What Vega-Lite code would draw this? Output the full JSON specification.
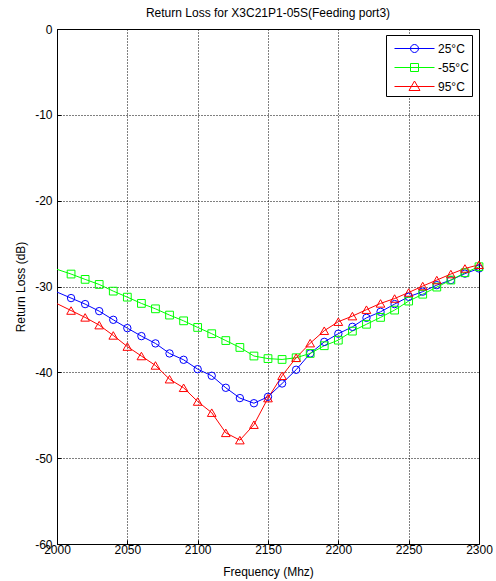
{
  "$schema": "https://vega.github.io/schema/vega-lite/v6.json",
  "width": 422,
  "height": 515,
  "autosize": {"type": "none"},
  "padding": {"left": 57, "top": 29, "right": 17, "bottom": 37},
  "config": {
    "font": "Liberation Sans",
    "view": {"stroke": "black", "strokeWidth": 1},
    "axis": {
      "labelFont": "Liberation Sans", "labelFontSize": 12, "labelColor": "black",
      "titleFont": "Liberation Sans", "titleFontSize": 12, "titleFontWeight": "normal", "titleColor": "black",
      "gridColor": "black", "gridDash": [1, 2], "gridOpacity": 1, "gridWidth": 1,
      "tickColor": "black", "tickSize": -4, "domain": false
    },
    "legend": {
      "title": null, "orient": "none", "legendX": 329, "legendY": 6,
      "fillColor": "white", "strokeColor": "black", "padding": 3,
      "symbolSize": 400, "symbolStrokeWidth": 1, "symbolFillColor": "transparent",
      "labelFontSize": 12, "labelFont": "Liberation Sans", "labelColor": "black",
      "rowPadding": 2, "labelOffset": 28
    }
  },
  "title": {"text": "Return Loss for X3C21P1-05S(Feeding port3)", "fontSize": 12, "fontWeight": "normal", "font": "Liberation Sans", "color": "black", "offset": 3, "anchor": "middle"},
  "data": {"values": [
    {"f": 2000, "t": "25°C", "rl": -30.65}, {"f": 2010, "t": "25°C", "rl": -31.35}, {"f": 2020, "t": "25°C", "rl": -32.05}, {"f": 2030, "t": "25°C", "rl": -32.87}, {"f": 2040, "t": "25°C", "rl": -33.88}, {"f": 2050, "t": "25°C", "rl": -34.85}, {"f": 2060, "t": "25°C", "rl": -35.78}, {"f": 2070, "t": "25°C", "rl": -36.63}, {"f": 2080, "t": "25°C", "rl": -37.8}, {"f": 2090, "t": "25°C", "rl": -38.54}, {"f": 2100, "t": "25°C", "rl": -39.63}, {"f": 2110, "t": "25°C", "rl": -40.4}, {"f": 2120, "t": "25°C", "rl": -41.8}, {"f": 2130, "t": "25°C", "rl": -43.0}, {"f": 2140, "t": "25°C", "rl": -43.6}, {"f": 2150, "t": "25°C", "rl": -42.85}, {"f": 2160, "t": "25°C", "rl": -41.3}, {"f": 2170, "t": "25°C", "rl": -39.7}, {"f": 2180, "t": "25°C", "rl": -37.8}, {"f": 2190, "t": "25°C", "rl": -36.45}, {"f": 2200, "t": "25°C", "rl": -35.5}, {"f": 2210, "t": "25°C", "rl": -34.7}, {"f": 2220, "t": "25°C", "rl": -33.65}, {"f": 2230, "t": "25°C", "rl": -32.95}, {"f": 2240, "t": "25°C", "rl": -32.05}, {"f": 2250, "t": "25°C", "rl": -31.2}, {"f": 2260, "t": "25°C", "rl": -30.6}, {"f": 2270, "t": "25°C", "rl": -29.84}, {"f": 2280, "t": "25°C", "rl": -29.25}, {"f": 2290, "t": "25°C", "rl": -28.5}, {"f": 2300, "t": "25°C", "rl": -27.9},
    {"f": 2000, "t": "-55°C", "rl": -28.0}, {"f": 2010, "t": "-55°C", "rl": -28.55}, {"f": 2020, "t": "-55°C", "rl": -29.17}, {"f": 2030, "t": "-55°C", "rl": -29.76}, {"f": 2040, "t": "-55°C", "rl": -30.54}, {"f": 2050, "t": "-55°C", "rl": -31.24}, {"f": 2060, "t": "-55°C", "rl": -31.97}, {"f": 2070, "t": "-55°C", "rl": -32.6}, {"f": 2080, "t": "-55°C", "rl": -33.33}, {"f": 2090, "t": "-55°C", "rl": -34.0}, {"f": 2100, "t": "-55°C", "rl": -34.77}, {"f": 2110, "t": "-55°C", "rl": -35.5}, {"f": 2120, "t": "-55°C", "rl": -36.3}, {"f": 2130, "t": "-55°C", "rl": -37.1}, {"f": 2140, "t": "-55°C", "rl": -38.1}, {"f": 2150, "t": "-55°C", "rl": -38.4}, {"f": 2160, "t": "-55°C", "rl": -38.5}, {"f": 2170, "t": "-55°C", "rl": -38.3}, {"f": 2180, "t": "-55°C", "rl": -37.8}, {"f": 2190, "t": "-55°C", "rl": -36.9}, {"f": 2200, "t": "-55°C", "rl": -36.25}, {"f": 2210, "t": "-55°C", "rl": -35.2}, {"f": 2220, "t": "-55°C", "rl": -34.4}, {"f": 2230, "t": "-55°C", "rl": -33.6}, {"f": 2240, "t": "-55°C", "rl": -32.75}, {"f": 2250, "t": "-55°C", "rl": -31.7}, {"f": 2260, "t": "-55°C", "rl": -30.9}, {"f": 2270, "t": "-55°C", "rl": -30.07}, {"f": 2280, "t": "-55°C", "rl": -29.25}, {"f": 2290, "t": "-55°C", "rl": -28.4}, {"f": 2300, "t": "-55°C", "rl": -27.7},
    {"f": 2000, "t": "95°C", "rl": -32.0}, {"f": 2010, "t": "95°C", "rl": -32.8}, {"f": 2020, "t": "95°C", "rl": -33.6}, {"f": 2030, "t": "95°C", "rl": -34.5}, {"f": 2040, "t": "95°C", "rl": -35.7}, {"f": 2050, "t": "95°C", "rl": -37.0}, {"f": 2060, "t": "95°C", "rl": -38.1}, {"f": 2070, "t": "95°C", "rl": -39.2}, {"f": 2080, "t": "95°C", "rl": -40.8}, {"f": 2090, "t": "95°C", "rl": -41.8}, {"f": 2100, "t": "95°C", "rl": -43.4}, {"f": 2110, "t": "95°C", "rl": -44.7}, {"f": 2120, "t": "95°C", "rl": -47.05}, {"f": 2130, "t": "95°C", "rl": -47.9}, {"f": 2140, "t": "95°C", "rl": -46.1}, {"f": 2150, "t": "95°C", "rl": -43.0}, {"f": 2160, "t": "95°C", "rl": -40.4}, {"f": 2170, "t": "95°C", "rl": -38.3}, {"f": 2180, "t": "95°C", "rl": -36.6}, {"f": 2190, "t": "95°C", "rl": -35.15}, {"f": 2200, "t": "95°C", "rl": -34.1}, {"f": 2210, "t": "95°C", "rl": -33.45}, {"f": 2220, "t": "95°C", "rl": -32.7}, {"f": 2230, "t": "95°C", "rl": -31.97}, {"f": 2240, "t": "95°C", "rl": -31.4}, {"f": 2250, "t": "95°C", "rl": -30.7}, {"f": 2260, "t": "95°C", "rl": -29.95}, {"f": 2270, "t": "95°C", "rl": -29.25}, {"f": 2280, "t": "95°C", "rl": -28.55}, {"f": 2290, "t": "95°C", "rl": -27.9}, {"f": 2300, "t": "95°C", "rl": -27.47}
  ]},
  "encoding": {
    "x": {"field": "f", "type": "quantitative", "scale": {"domain": [2000, 2300], "nice": false, "zero": false},
      "axis": {"title": "Frequency (Mhz)", "values": [2000, 2050, 2100, 2150, 2200, 2250, 2300], "format": "d", "labelPadding": 4, "titlePadding": 11, "labelFlush": false, "labelOverlap": false}},
    "y": {"field": "rl", "type": "quantitative", "scale": {"domain": [-60, 0], "nice": false, "zero": false},
      "axis": {"title": "Return Loss (dB)", "values": [-60, -50, -40, -30, -20, -10, 0], "labelExpr": "'' + datum.value", "labelPadding": 9, "titlePadding": 7, "labelFlush": false, "labelOverlap": false}},
    "color": {"field": "t", "type": "nominal",
      "scale": {"domain": ["25°C", "-55°C", "95°C"], "range": ["#0000FF", "#00FF00", "#FF0000"]}}
  },
  "layer": [
    {
      "mark": {"type": "line", "strokeWidth": 1, "clip": true}
    },
    {
      "transform": [{"filter": "datum.f > 2000 && datum.t === '25°C'"}],
      "mark": {"type": "point", "shape": "circle", "filled": false, "strokeWidth": 1, "opacity": 1, "size": 55}
    },
    {
      "transform": [{"filter": "datum.f > 2000 && datum.t === '-55°C'"}],
      "mark": {"type": "point", "shape": "square", "filled": false, "strokeWidth": 1, "opacity": 1, "size": 60}
    },
    {
      "transform": [{"filter": "datum.f > 2000 && datum.t === '95°C'"}],
      "mark": {"type": "point", "shape": "triangle-up", "filled": false, "strokeWidth": 1, "opacity": 1, "size": 75}
    },
    {
      "transform": [{"filter": "datum.f < 0"}],
      "mark": {"type": "point", "filled": false, "strokeWidth": 1},
      "encoding": {
        "shape": {"field": "t", "type": "nominal",
          "scale": {"domain": ["25°C", "-55°C", "95°C"], "range": [
            "M-0.5,0H3.5M1.9,0A0.4,0.4 0 1,1 1.1,0A0.4,0.4 0 1,1 1.9,0",
            "M-0.5,0H3.5M1.1,-0.4H1.9V0.4H1.1Z",
            "M-0.5,0H3.5M1.5,-0.55L2.05,0.4H0.95Z"
          ]}}
      }
    }
  ]
}
